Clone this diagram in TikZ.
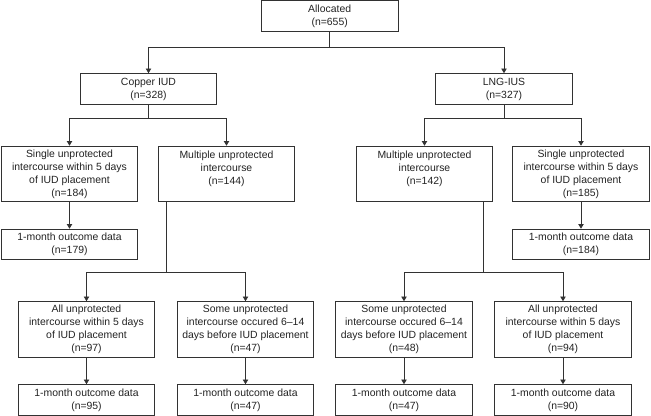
\documentclass[tikz,border=0pt]{standalone}
\usepackage{fontspec}
\setmainfont{Liberation Sans}
\usetikzlibrary{arrows.meta, positioning, calc}
\definecolor{flowline}{RGB}{50,50,50}
\definecolor{flowtext}{RGB}{35,35,35}
\tikzset{
  %% ---- boxes ----
  flowbox/.style  = {rectangle, draw=flowline, line width=0.75pt,
                     fill=white, minimum width=4.1cm, minimum height=#1,
                     align=center, inner sep=1pt, text=flowtext,
                     font=\fontsize{8.9}{11.1}\selectfont},
  flowbox/.default = 0.92cm,
  tallbox/.style  = {flowbox=1.67cm},
  %% ---- arrows ----
  arrow/.style    = {-{Triangle[length=4pt, width=4.6pt]},
                     line width=0.75pt, color=flowline},
  link/.style     = {line width=0.75pt, color=flowline},
}

\begin{document}
\begin{tikzpicture}
  \useasboundingbox (0,0) rectangle (19.53,-12.48);

  %% Allocation
  \node[flowbox] (alloc) at (9.89,-0.48) {Allocated\\(n=655)};

  %% Device arms
  \node[flowbox] (copper) at (4.455,-2.67) {Copper IUD\\(n=328)};
  \node[flowbox] (lng)    at (15.12,-2.67) {LNG-IUS\\(n=327)};

  %% Intercourse groups
  \node[tallbox] (singleL) at (2.085,-5.22)
    {Single unprotected\\intercourse within 5 days\\of IUD placement\\(n=184)};
  \node[tallbox] (multiL)  at (6.795,-5.22)
    {Multiple unprotected\\intercourse\\(n=144)\\\mbox{}};
  \node[tallbox] (multiR)  at (12.735,-5.22)
    {Multiple unprotected\\intercourse\\(n=142)\\\mbox{}};
  \node[tallbox] (singleR) at (17.43,-5.22)
    {Single unprotected\\intercourse within 5 days\\of IUD placement\\(n=185)};

  %% Outcomes, single intercourse
  \node[flowbox] (outSL) at (2.085,-7.335) {1-month outcome data\\(n=179)};
  \node[flowbox] (outSR) at (17.43,-7.335) {1-month outcome data\\(n=184)};

  %% Multiple intercourse subgroups
  \node[tallbox] (allL)  at (2.595,-9.885)
    {All unprotected\\intercourse within 5 days\\of IUD placement\\(n=97)};
  \node[tallbox] (someL) at (7.365,-9.885)
    {Some unprotected\\intercourse occured 6--14\\days before IUD placement\\(n=47)};
  \node[tallbox] (someR) at (12.12,-9.885)
    {Some unprotected\\intercourse occured 6--14\\days before IUD placement\\(n=48)};
  \node[tallbox] (allR)  at (16.89,-9.885)
    {All unprotected\\intercourse within 5 days\\of IUD placement\\(n=94)};

  %% Outcomes, multiple intercourse
  \node[flowbox] (outAL) at (2.595,-12.0) {1-month outcome data\\(n=95)};
  \node[flowbox] (outSoL) at (7.365,-12.0) {1-month outcome data\\(n=47)};
  \node[flowbox] (outSoR) at (12.12,-12.0) {1-month outcome data\\(n=47)};
  \node[flowbox] (outAR) at (16.89,-12.0) {1-month outcome data\\(n=90)};

  %% Connectors
  \draw[arrow] (alloc.south) -- ++(0,-0.48) -| (copper.north);
  \draw[arrow] (alloc.south) -- ++(0,-0.48) -| (lng.north);

  \draw[arrow] (copper.south) -- ++(0,-0.42) -| (singleL.north);
  \draw[arrow] (copper.south) -- ++(0,-0.42) -| (multiL.north);
  \draw[arrow] (lng.south) -- ++(0,-0.42) -| (multiR.north);
  \draw[arrow] (lng.south) -- ++(0,-0.42) -| (singleR.north);

  \draw[arrow] (singleL.south) -- (outSL.north);
  \draw[arrow] (singleR.south) -- (outSR.north);

  \coordinate (forkL) at ($(allL.north)!0.5!(someL.north)+(0,0.87)$);
  \coordinate (forkR) at ($(someR.north)!0.5!(allR.north)+(0,0.87)$);
  \draw[link] (forkL |- multiL.south) -- (forkL);
  \draw[arrow] (forkL) -| (allL.north);
  \draw[arrow] (forkL) -| (someL.north);
  \draw[link] (forkR |- multiR.south) -- (forkR);
  \draw[arrow] (forkR) -| (someR.north);
  \draw[arrow] (forkR) -| (allR.north);

  \draw[arrow] (allL.south)  -- (outAL.north);
  \draw[arrow] (someL.south) -- (outSoL.north);
  \draw[arrow] (someR.south) -- (outSoR.north);
  \draw[arrow] (allR.south)  -- (outAR.north);

\end{tikzpicture}
\end{document}
